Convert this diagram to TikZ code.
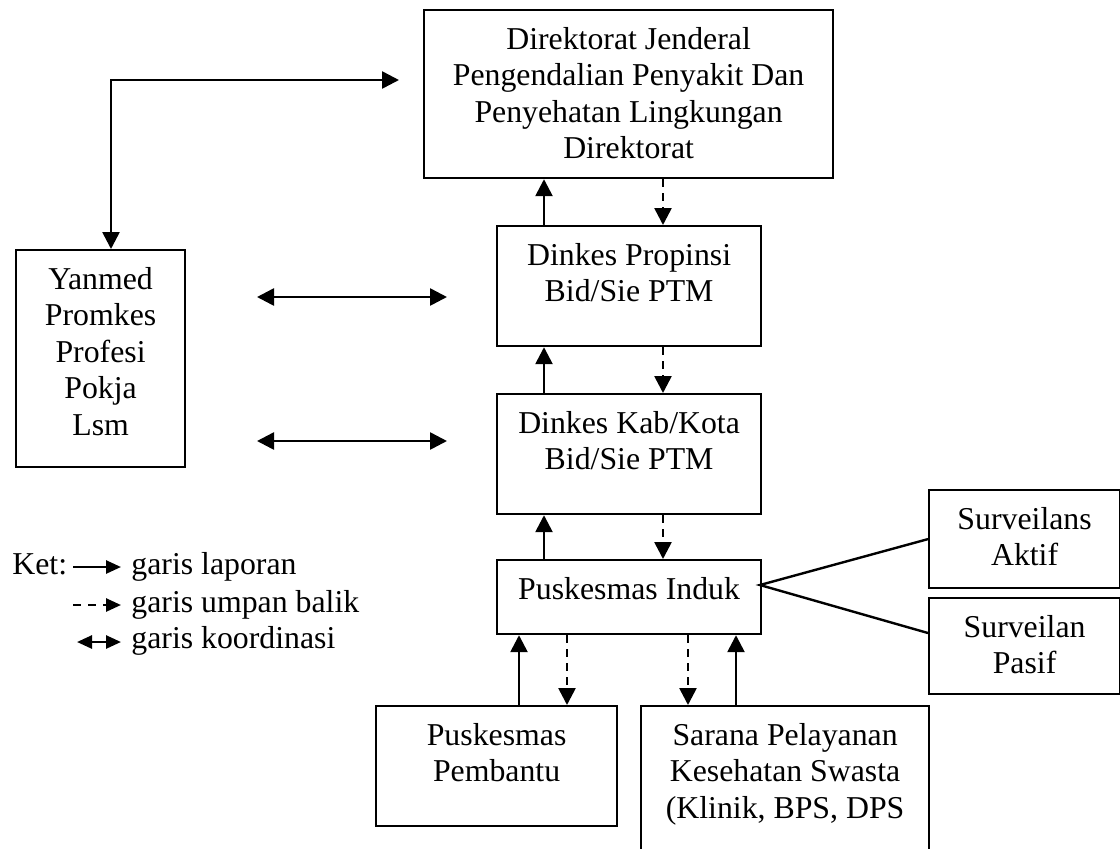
\documentclass[tikz,border=0pt]{standalone}
\usepackage{fontspec}
\setmainfont{Liberation Serif}
\usetikzlibrary{arrows.meta}
\begin{document}
\begin{tikzpicture}[x=0.5pt,y=-0.5pt,
  box/.style={draw, line width=1.1pt, anchor=north west, inner sep=0pt},
  txt/.style={anchor=north, inner sep=0pt, align=center, font=\fontsize{15.9pt}{18.25pt}\selectfont},
  lap/.style={line width=1.3pt, -{Triangle[length=8.5pt,width=8.5pt]}},
  umpan/.style={lap, dash pattern=on 4pt off 3pt},
  koord/.style={line width=1.3pt, {Triangle[length=8.5pt,width=8.5pt]}-{Triangle[length=8.5pt,width=8.5pt]}},
  garis/.style={line width=1.2pt},
  legtip/.style={line width=1.3pt, -{Triangle[length=7.5pt,width=6.5pt]}}
  ]
\useasboundingbox (0,0) rectangle (1120,848);
\clip (0,0) rectangle (1120,848);

% boxes
\node[box, minimum width=204.5pt, minimum height=84pt] (tb) at (423,9) {};
\node[box, minimum width=84.5pt, minimum height=108.5pt] (yan) at (15,249) {};
\node[box, minimum width=132pt, minimum height=60pt] (prop) at (496,225) {};
\node[box, minimum width=132pt, minimum height=60pt] (kab) at (496,393) {};
\node[box, minimum width=132pt, minimum height=37pt] (ind) at (496,559) {};
\node[box, minimum width=95.5pt, minimum height=49pt] (akt) at (928,489) {};
\node[box, minimum width=95.5pt, minimum height=48pt] (pas) at (928,597) {};
\node[box, minimum width=120.5pt, minimum height=60pt] (pem) at (375,705) {};
\node[box, minimum width=144pt, minimum height=80pt] (sar) at (640,705) {};

% texts
\node[txt] (ttb) at ([yshift=-9pt]tb.north) {Direktorat Jenderal\\Pengendalian Penyakit Dan\\Penyehatan Lingkungan\\Direktorat};
\node[txt] (tyan) at ([yshift=-9pt]yan.north) {Yanmed\\Promkes\\Profesi\\Pokja\\Lsm};
\node[txt] (tprop) at ([yshift=-9pt]prop.north) {Dinkes Propinsi\\Bid/Sie PTM};
\node[txt] (tkab) at ([yshift=-9pt]kab.north) {Dinkes Kab/Kota\\Bid/Sie PTM};
\node[txt] (tind) at ([yshift=-9pt]ind.north) {Puskesmas Induk};
\node[txt] (takt) at ([yshift=-9pt]akt.north) {Surveilans\\Aktif};
\node[txt] (tpas) at ([yshift=-9pt]pas.north) {Surveilan\\Pasif};
\node[txt] (tpem) at ([yshift=-9pt]pem.north) {Puskesmas\\Pembantu};
\node[txt] (tsar) at ([yshift=-9pt]sar.north) {Sarana Pelayanan\\Kesehatan Swasta\\(Klinik, BPS, DPS};

% x columns
\coordinate (xa) at (544,0);
\coordinate (xb) at (663,0);
\coordinate (xc) at (519,0);
\coordinate (xd) at (567,0);
\coordinate (xe) at (688,0);
\coordinate (xf) at (736,0);

% vertical connectors
\draw[lap] (prop.north -| xa) -- (tb.south -| xa);
\draw[umpan] (tb.south -| xb) -- (prop.north -| xb);
\draw[lap] (kab.north -| xa) -- (prop.south -| xa);
\draw[umpan] (prop.south -| xb) -- (kab.north -| xb);
\draw[lap] (ind.north -| xa) -- (kab.south -| xa);
\draw[umpan] (kab.south -| xb) -- (ind.north -| xb);
\draw[lap] (pem.north -| xc) -- (ind.south -| xc);
\draw[umpan] (ind.south -| xd) -- (pem.north -| xd);
\draw[umpan] (ind.south -| xe) -- (sar.north -| xe);
\draw[lap] (sar.north -| xf) -- (ind.south -| xf);

% surveilans lines
\coordinate (ie) at (760,585);
\coordinate (pw) at (928,633);
\draw[garis] (akt.west) -- (ie) -- (pw);

% coordination
\coordinate (tip) at (399,80);
\coordinate (ytop) at (111,249);
\draw[koord] (tip) -| (ytop);
\coordinate (c1a) at (257,297);
\coordinate (c1b) at (447,297);
\coordinate (c2a) at (257,441);
\coordinate (c2b) at (447,441);
\draw[koord] (c1a) -- (c1b);
\draw[koord] (c2a) -- (c2b);

% legend
\node[txt, anchor=base west] (ket) at (12,574) {Ket:};
\coordinate (l1a) at (73,567);
\coordinate (l1b) at (121,567);
\draw[legtip] (l1a) -- (l1b);
\node[txt, anchor=base west] (g1) at (131,574) {garis laporan};
\coordinate (l2a) at (73,605);
\coordinate (l2b) at (121,605);
\draw[legtip, dash pattern=on 4pt off 3.5pt] (l2a) -- (l2b);
\node[txt, anchor=base west] (g2) at (131,612) {garis umpan balik};
\coordinate (l3a) at (77,642);
\coordinate (l3b) at (121,642);
\draw[line width=1.3pt, {Triangle[length=7.5pt,width=6.5pt]}-{Triangle[length=7.5pt,width=6.5pt]}] (l3a) -- (l3b);
\node[txt, anchor=base west] (g3) at (131,648) {garis koordinasi};
\end{tikzpicture}
\end{document}
